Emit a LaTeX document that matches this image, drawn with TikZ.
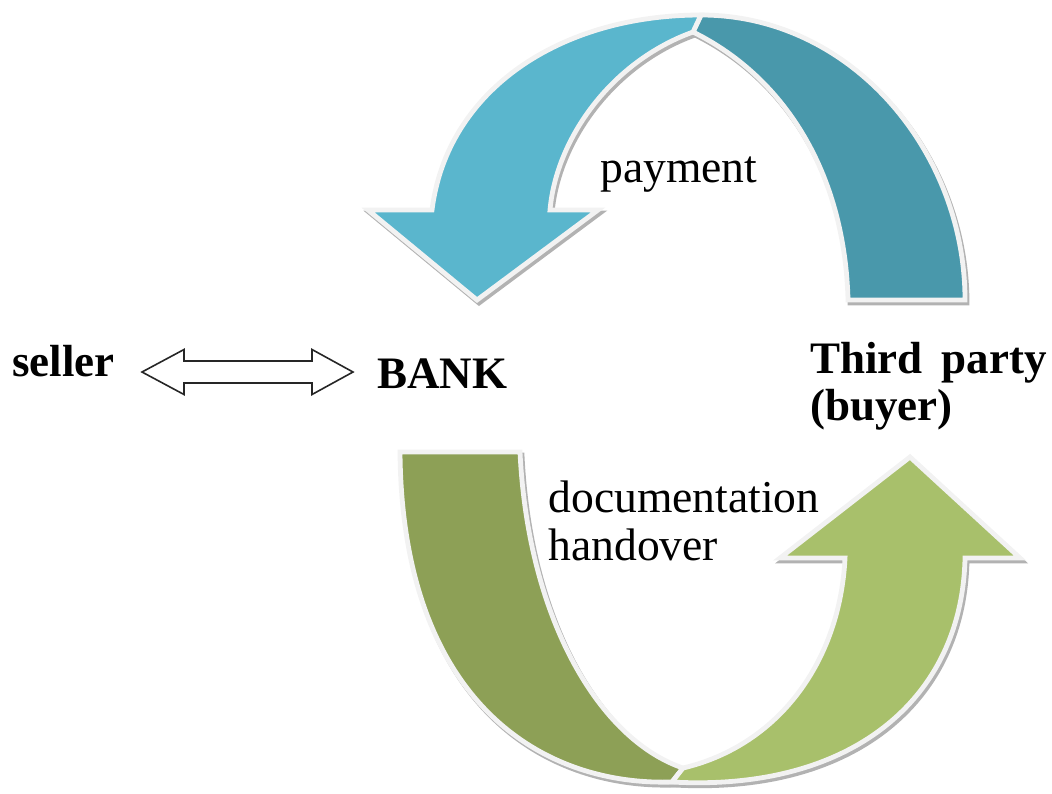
\documentclass[tikz,border=0pt]{standalone}
\usepackage{fontspec}
\setmainfont{Liberation Serif}
\definecolor{blueA}{RGB}{90,182,205}
\definecolor{blueB}{RGB}{73,152,171}
\definecolor{greenA}{RGB}{141,160,86}
\definecolor{greenB}{RGB}{168,192,107}
\tikzset{
  band/.style={draw=black!5, line width=2.4pt, line join=miter},
  bandshadow/.style={fill=black!30, draw=black!30, line width=2.4pt, shift={(2,3)}},
  lbl/.style={font=\fontsize{22.5}{24}\selectfont\bfseries, anchor=base west, inner sep=0pt},
  txt/.style={font=\fontsize{22.8}{24}\selectfont, anchor=base west, inner sep=0pt, align=left},
  dblarrow/.style={draw=black!85, line width=0.8pt, fill=white, line join=miter}
}
\begin{document}
\begin{tikzpicture}[x=0.5pt,y=-0.5pt]
\useasboundingbox (0,0) rectangle (1052,793);
% ---------- top arrow (payment) ----------
\def\tealpath{(701,15) .. controls (850,15) and (965,150) .. (965,300) -- (848,300) .. controls (845,180) and (790,80) .. (693,32) -- cycle}
\def\bluepath{(432,210) -- (368,210) -- (477,300) -- (598,210) -- (550,210) .. controls (556,140) and (610,62) .. (693,32) -- (701,15) .. controls (560,15) and (447,90) .. (432,210) -- cycle}
\path[bandshadow] \tealpath;
\path[bandshadow] \bluepath;
\path[band, fill=blueB] \tealpath;
\path[band, fill=blueA] \bluepath;
% ---------- bottom arrow (documentation handover) ----------
\def\dgpath{(400,452) -- (520,452) .. controls (528,620) and (600,740) .. (683,768) -- (672,782) .. controls (540,786) and (402,700) .. (400,452) -- cycle}
\def\lgpath{(672,782) .. controls (850,792) and (962,700) .. (965,558) -- (1020,558) -- (910,457) -- (780,558) -- (845,558) .. controls (840,660) and (780,745) .. (683,768) -- cycle}
\path[bandshadow] \dgpath;
\path[bandshadow] \lgpath;
\path[band, fill=greenA] \dgpath;
\path[band, fill=greenB] \lgpath;
% ---------- labels ----------
\node[lbl] (seller) at (12,376) {seller};
\node[lbl] (bank) at (377,388) {BANK};
\node[lbl] (third) at (810,373) {Third\hspace{0.42em}party};
\node[lbl] (buyer) at (810,420) {(buyer)};
\node[txt] (pay) at (600,182) {payment};
\node[txt] (doc) at (548,512) {documentation};
\node[txt] (hand) at (548,560) {handover};
% ---------- double arrow seller <-> BANK ----------
\coordinate (L) at (142,372);
\coordinate (R) at (353,372);
\path[dblarrow] (L) -- (184,349.5) -- (184,361) -- (312,361) -- (312,349.5) -- (R) -- (312,394.5) -- (312,383) -- (184,383) -- (184,394.5) -- cycle;
\end{tikzpicture}
\end{document}
